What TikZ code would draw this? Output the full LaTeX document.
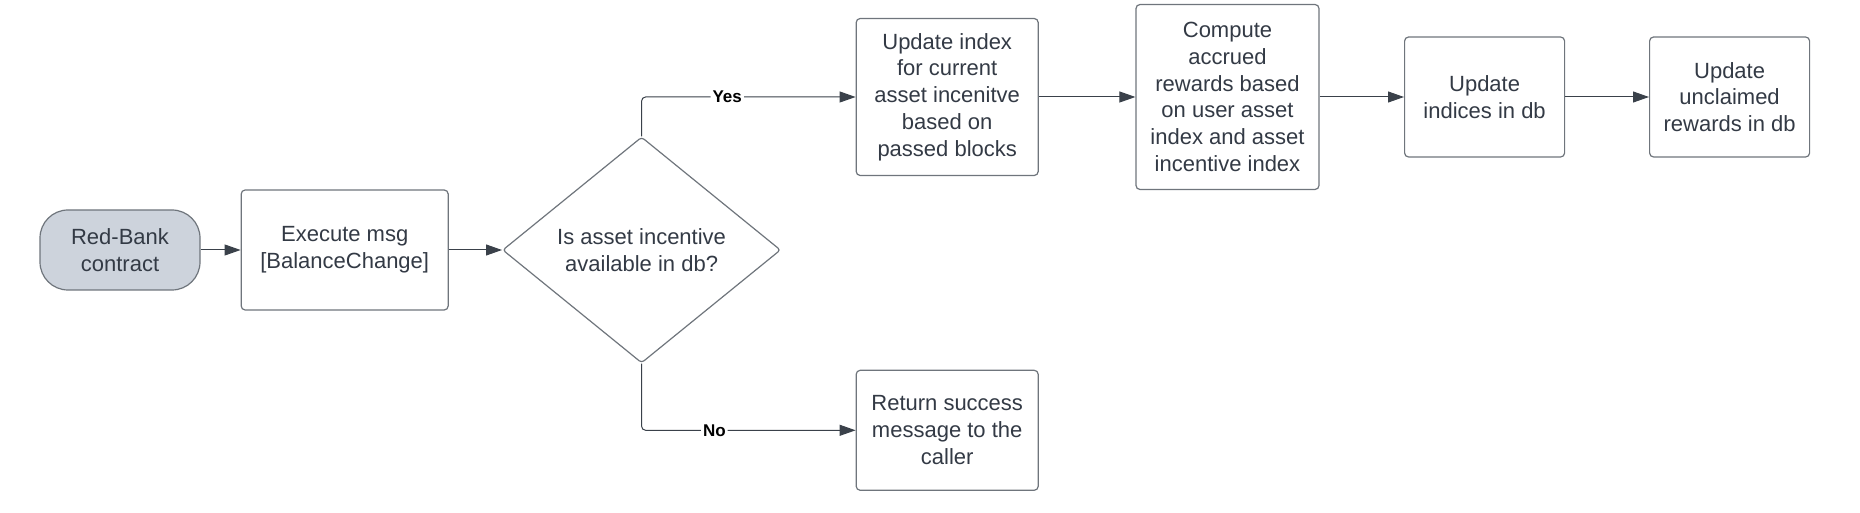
\documentclass[tikz,border=0pt]{standalone}
\usepackage{fontspec}
\setmainfont{Liberation Sans}
\usetikzlibrary{shapes.geometric, positioning, arrows.meta}
\definecolor{linegray}{HTML}{3A414A}
\definecolor{boxgray}{HTML}{6F757C}
\definecolor{textgray}{HTML}{333A45}
\definecolor{termfill}{HTML}{CDD3DC}
\tikzset{
->, % makes the connectors directed
>={Triangle[length=8pt,width=5.5pt]}, % filled arrow heads
every picture/.style={color=linegray, line width=0.5pt}, % thin dark connectors
block/.style={draw=boxgray, line width=0.6pt, rounded corners=2pt, fill=white, text=textgray,
  align=center, inner sep=0pt, font=\fontsize{11}{13.4}\selectfont}, % a process step
term/.style={block, fill=termfill, rounded corners=14pt}, % start of the flow
decision/.style={block, diamond, rounded corners=1.5pt}, % the yes/no question
lbl/.style={fill=white, text=black, inner sep=1pt, font=\fontsize{8.5}{10}\selectfont\bfseries}, % edge labels
}

\begin{document}
\begin{tikzpicture}
    \useasboundingbox (0,0) rectangle (930pt,-256.5pt);
    \node[term, minimum width=80pt, minimum height=40pt] (rb) at (60pt,-125pt) {Red-Bank\\contract};
    \node[block, minimum width=103.5pt, minimum height=60pt, right=20pt of rb] (ex) {Execute msg\\{[}BalanceChange{]}};
    \node[decision, minimum width=139pt, minimum height=113pt, right=26.6pt of ex] (dec) {Is asset incentive\\available in db?};
    \node[block, minimum width=91pt, minimum height=78.5pt, right=37.2pt of dec, yshift=76.5pt] (upd) {Update index\\for current\\asset incenitve\\based on\\passed blocks};
    \node[block, minimum width=91.5pt, minimum height=92.5pt, right=48.3pt of upd] (cmp) {Compute\\accrued\\rewards based\\on user asset\\index and asset\\incentive index};
    \node[block, minimum width=80pt, minimum height=60pt, right=42.2pt of cmp] (idx) {Update\\indices in db};
    \node[block, minimum width=80pt, minimum height=60pt, right=41.9pt of idx] (unc) {Update\\unclaimed\\rewards in db};
    \node[block, minimum width=91pt, minimum height=60pt, below=96.8pt of upd] (ret) {Return success\\message to the\\caller};
    \draw (rb) -- (ex);
    \draw (ex) -- (dec);
    \draw[rounded corners=2pt] (dec.north) |- node[lbl, pos=0.7]{Yes} (upd);
    \draw[rounded corners=2pt] (dec.south) |- node[lbl, pos=0.67]{No} (ret);
    \draw (upd) -- (cmp);
    \draw (cmp) -- (idx);
    \draw (idx) -- (unc);
\end{tikzpicture}
\end{document}
